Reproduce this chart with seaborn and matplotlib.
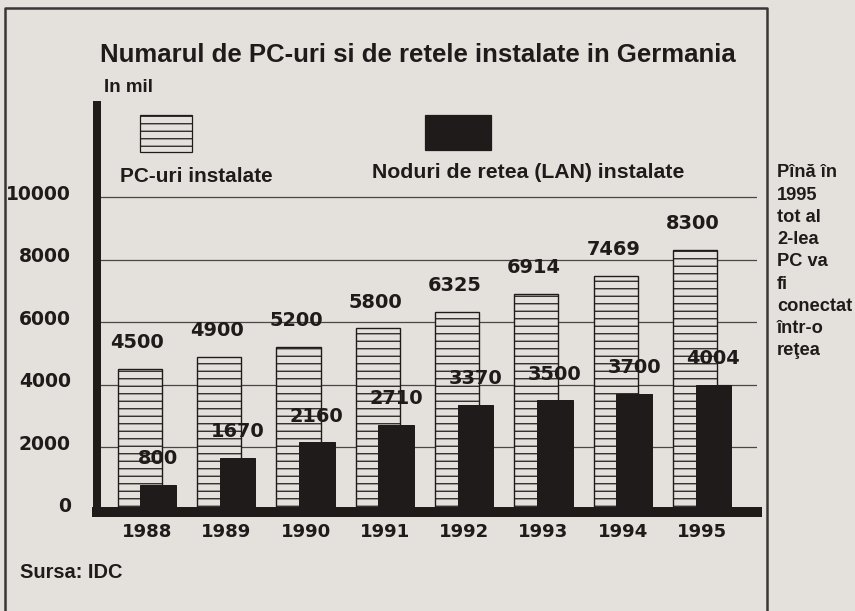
import pandas as pd
import seaborn as sns
import matplotlib.pyplot as plt
from matplotlib.patches import Rectangle
from matplotlib.lines import Line2D
from matplotlib.transforms import ScaledTranslation

# date (mii)
years = [1988, 1989, 1990, 1991, 1992, 1993, 1994, 1995]
pc_instalate = [4500, 4900, 5200, 5800, 6325, 6914, 7469, 8300]
noduri_lan = [800, 1670, 2160, 2710, 3370, 3500, 3700, 4004]
y_ticks = [0, 2000, 4000, 6000, 8000, 10000]

titlu = "Numarul de PC-uri si de retele instalate in Germania"
unitate = "In mil"
leg_pc = "PC-uri instalate"
leg_lan = "Noduri de retea (LAN) instalate"
sursa = "Sursa: IDC"
nota = ["Pînă în", "1995", "tot al", "2-lea", "PC va", "fi", "conectat", "într-o", "reţea"]

paper = "#e4e1dc"
ink = "#1f1b1b"
W, H, DPI = 855, 611, 90


def fx(px):
    return px / W


def fy(py):
    return 1 - py / H


sns.set_style("white")
plt.rcParams["hatch.linewidth"] = 1.0
num_font = dict(family="DejaVu Sans", weight="bold", color=ink)
txt_font = dict(family="Liberation Sans", weight="bold", color=ink)

df = pd.DataFrame({"an": years, "pc": pc_instalate, "lan": noduri_lan})
off_pc, off_lan = -0.09, 0.14

fig = plt.figure(figsize=(W / DPI, H / DPI), dpi=DPI, facecolor=paper)
ax = fig.add_axes([fx(97), fy(512), (757 - 97) / W, (512 - 105) / H])
ax.set_facecolor(paper)

sns.barplot(x=df["an"] + off_pc, y=df["pc"], native_scale=True, width=0.555,
            color=paper, edgecolor=ink, linewidth=1.1, hatch="--",
            saturation=1, errorbar=None, ax=ax, zorder=2)
sns.barplot(x=df["an"] + off_lan, y=df["lan"], native_scale=True, width=0.45,
            color=ink, edgecolor=ink, linewidth=0.8,
            saturation=1, errorbar=None, ax=ax, zorder=3)

for x, v in zip(df["an"] + off_pc, df["pc"]):
    ax.annotate(str(v), (x, v), xytext=(-2, 21), textcoords="offset points",
                ha="center", va="center", fontsize=15.5, zorder=5, **num_font)
for x, v in zip(df["an"] + off_lan, df["lan"]):
    ax.annotate(str(v), (x, v), xytext=(0, 21), textcoords="offset points",
                ha="center", va="center", fontsize=15.5, zorder=5, **num_font)

ax.set_xlim(1987.37, 1995.69)
ax.set_ylim(-64, 12940)
ax.set_xticks(years)
ax.set_xticklabels([str(y) for y in years], **num_font, fontsize=14.5)
ax.set_yticks(y_ticks)
ax.set_yticklabels([str(t) for t in y_ticks], **num_font, fontsize=15)
ax.tick_params(axis="both", length=0)
ax.tick_params(axis="y", pad=21)
ax.tick_params(axis="x", pad=9)
shift = ScaledTranslation(0, 5 / DPI, fig.dpi_scale_trans)
for lab in ax.get_yticklabels():
    lab.set_transform(lab.get_transform() + shift)

ax.set_xlabel("")
ax.set_ylabel("")
ax.yaxis.grid(True, color="#4a4646", linewidth=1.0, zorder=0.5)
ax.xaxis.grid(False)
ax.set_axisbelow(True)
for s in ["top", "right"]:
    ax.spines[s].set_visible(False)
ax.spines["left"].set_linewidth(6.4)
ax.spines["bottom"].set_linewidth(8)
for s in ["left", "bottom"]:
    ax.spines[s].set_color(ink)
    ax.spines[s].set_capstyle("projecting")
    ax.spines[s].set_zorder(4)

# titlu si legenda
fig.text(fx(100), fy(55), titlu, ha="left", va="center", fontsize=20.6, **txt_font)
fig.text(fx(104), fy(87), unitate, ha="left", va="center", fontsize=15, **txt_font)
fig.add_artist(Rectangle((fx(140), fy(152)), 52 / W, 37 / H, transform=fig.transFigure,
                         facecolor=paper, edgecolor=ink, lw=1, hatch="--"))
fig.add_artist(Rectangle((fx(425), fy(150)), 66 / W, 35 / H, transform=fig.transFigure,
                         facecolor=ink, edgecolor=ink, lw=1))
fig.text(fx(120), fy(177), leg_pc, ha="left", va="center", fontsize=16.6, **txt_font)
fig.text(fx(372), fy(173), leg_lan, ha="left", va="center", fontsize=17, **txt_font)
fig.text(fx(20), fy(572), sursa, ha="left", va="center", fontsize=16, **txt_font)

for i, rand in enumerate(nota):
    fig.text(fx(777), fy(173 + 22.2 * i), rand, ha="left", va="center", fontsize=14.6, **txt_font)

# chenar
fig.add_artist(Line2D([fx(5), fx(5), fx(767), fx(767)], [0, fy(8), fy(8), 0],
                      transform=fig.transFigure, color="#3a3636", lw=2))

fig.savefig("out.png", dpi=DPI, facecolor=paper)
